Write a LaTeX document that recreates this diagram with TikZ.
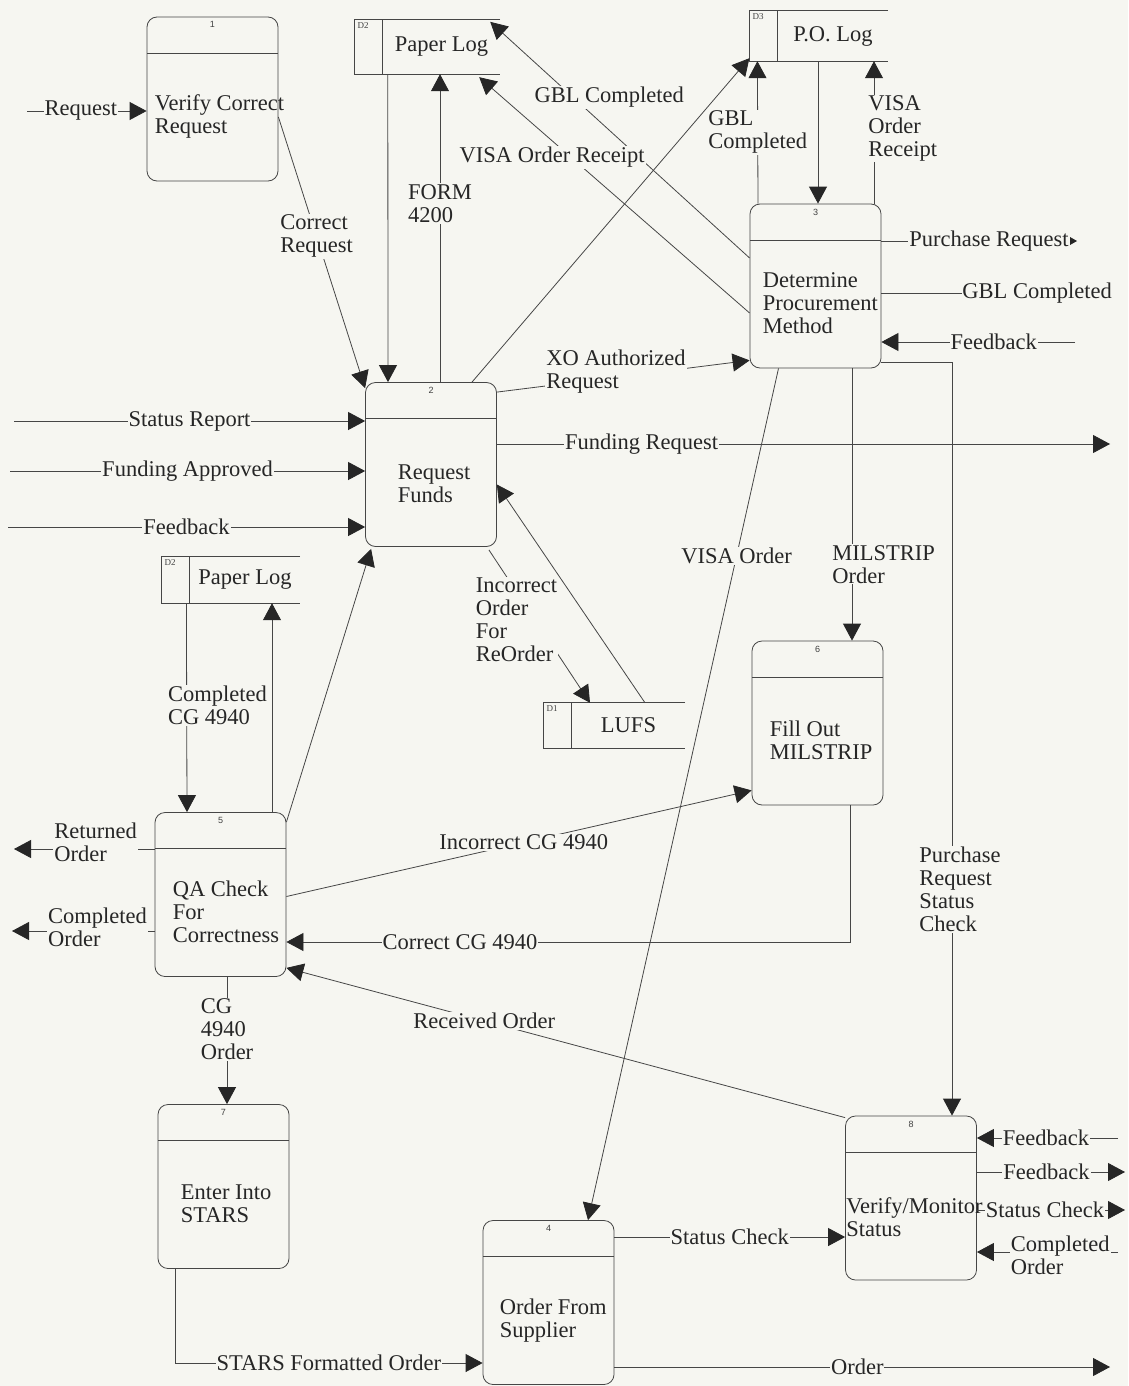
\documentclass[tikz,border=0pt]{standalone}
\usepackage{fontspec}
\setmainfont{Liberation Serif}
\newfontfamily\numfont{Liberation Sans}
\usepackage{tikz}
\usetikzlibrary{arrows.meta, positioning}
\definecolor{paper}{RGB}{246,246,241}
\definecolor{ink}{RGB}{70,70,70}

\begin{document}
\begin{tikzpicture}[
    x=1pt, y=-1pt,
    font=\fontsize{22.5}{23}\selectfont,
    flow/.style={draw=ink, line width=0.8pt},
    arrow/.style={flow, -{Triangle[length=17pt, width=18pt, color=black!85]}},
    smallarrow/.style={flow, -{Triangle[length=9pt, width=10pt, color=black!85]}},
    proc/.style={rectangle, rounded corners=10pt, draw=ink, line width=0.8pt, minimum width=131pt, minimum height=164pt, inner sep=0pt,
        path picture={\draw[ink, line width=0.8pt] ([yshift=-36pt]path picture bounding box.north west) -- ([yshift=-36pt]path picture bounding box.north east);}},
    num/.style={anchor=north, yshift=-4pt, inner sep=1pt, font=\numfont\fontsize{9}{9}\selectfont, text=black!75},
    ptext/.style={anchor=west, align=left, inner sep=0pt, text=black!85},
    store/.style={rectangle, inner sep=0pt, text=black!85},
    sid/.style={rectangle, inner sep=0pt, minimum width=28pt},
    sidtxt/.style={anchor=north west, inner sep=3pt, font=\fontsize{9}{9}\selectfont, text=black!75},
    edge/.style={draw=ink, line width=0.8pt},
    lbl/.style={fill=paper, inner sep=1pt, text=black!85}
]
    \useasboundingbox (0,0) rectangle (1128,1386);
    \fill[paper] (0,0) rectangle (1128,1386);

    % Processes
    \node[proc, label={[num]north:1}] (p1) at (212.5,99) {};
    \node[proc, label={[num]north:2}] (p2) at (431,464.5) {};
    \node[proc, label={[num]north:3}] (p3) at (815.5,286) {};
    \node[proc, label={[num]north:4}] (p4) at (548.5,1302.5) {};
    \node[proc, label={[num]north:5}] (p5) at (220.5,894.5) {};
    \node[proc, label={[num]north:6}] (p6) at (817.5,723) {};
    \node[proc, label={[num]north:7}] (p7) at (223.5,1186.5) {};
    \node[proc, label={[num]north:8}] (p8) at (911,1198) {};

    \node[ptext] (p1t) at ([shift={(8pt,-17pt)}]p1.west) {Verify Correct\\Request};
    \node[ptext] (p2t) at ([shift={(32.5pt,-19pt)}]p2.west) {Request\\Funds};
    \node[ptext] (p3t) at ([shift={(13pt,-17pt)}]p3.west) {Determine\\Procurement\\Method};
    \node[ptext] (p4t) at ([shift={(17pt,-18.5pt)}]p4.west) {Order From\\Supplier};
    \node[ptext] (p5t) at ([shift={(18pt,-17.5pt)}]p5.west) {QA Check\\For\\Correctness};
    \node[ptext] (p6t) at ([shift={(18pt,-17pt)}]p6.west) {Fill Out\\MILSTRIP};
    \node[ptext] (p7t) at ([shift={(23pt,-17pt)}]p7.west) {Enter Into\\STARS};
    \node[ptext] (p8t) at ([shift={(1pt,-19pt)}]p8.west) {Verify/Monitor\\Status};

    % Data stores
    \node[store, minimum width=117pt, minimum height=54pt] (d2a) at (441.5,47) {Paper Log};
    \node[sid, minimum height=54pt, left=0pt of d2a, label={[sidtxt]north west:D2}] (d2aid) {};
    \node[store, minimum width=110pt, minimum height=50pt] (d3) at (833,36) {P.O. Log};
    \node[sid, minimum height=50pt, left=0pt of d3, label={[sidtxt]north west:D3}] (d3id) {};
    \node[store, minimum width=110pt, minimum height=46pt] (d2b) at (245,580) {Paper Log};
    \node[sid, minimum height=46pt, left=0pt of d2b, label={[sidtxt]north west:D2}] (d2bid) {};
    \node[store, minimum width=113pt, minimum height=45pt] (d1) at (628.5,725.5) {LUFS};
    \node[sid, minimum height=45pt, left=0pt of d1, label={[sidtxt]north west:D1}] (d1id) {};

    \draw[edge] (d2a.north east) -- (d2aid.north west) -- (d2aid.south west) -- (d2a.south east);
    \draw[edge] (d2aid.north east) -- (d2aid.south east);
    \draw[edge] (d3.north east) -- (d3id.north west) -- (d3id.south west) -- (d3.south east);
    \draw[edge] (d3id.north east) -- (d3id.south east);
    \draw[edge] (d2b.north east) -- (d2bid.north west) -- (d2bid.south west) -- (d2b.south east);
    \draw[edge] (d2bid.north east) -- (d2bid.south east);
    \draw[edge] (d1.north east) -- (d1id.north west) -- (d1id.south west) -- (d1.south east);
    \draw[edge] (d1id.north east) -- (d1id.south east);

    % Free ends
    \coordinate (rqin) at (27,111);
    \coordinate (srin) at (14,421);
    \coordinate (fain) at (10,471);
    \coordinate (fbin) at (8,527);
    \coordinate (frout) at (1110,444);
    \coordinate (prout) at (1077,241);
    \coordinate (gblout) at (962,293);
    \coordinate (fb3in) at (1075,342);
    \coordinate (roout) at (14,849);
    \coordinate (coout) at (12,931);
    \coordinate (ordout) at (1110,1367);
    \coordinate (fb8in) at (1118,1138);
    \coordinate (fb8out) at (1125,1172);
    \coordinate (scout) at (1125,1210);
    \coordinate (co8in) at (1118,1252);

    % Verify and request funds
    \draw[arrow] (rqin) -- node[lbl, pos=0.45] {Request} (p1.west |- rqin);
    \draw[arrow] ([yshift=-18pt]p1.east) -- node[lbl, align=left, pos=0.44] {Correct\\Request} ([yshift=-6pt]p2.north west);
    \draw[arrow] (srin) -- node[lbl] {Status Report} (p2.west |- srin);
    \draw[arrow] (fain) -- node[lbl] {Funding Approved} (p2.west |- fain);
    \draw[arrow] (fbin) -- node[lbl] {Feedback} (p2.west |- fbin);
    \draw[arrow] (p2.east |- frout) -- node[lbl, pos=0.236] {Funding Request} (frout);
    \draw[arrow] ([xshift=5pt]d2a.south west) -- ([xshift=-43pt]p2.north);
    \draw[arrow] ([xshift=9pt]p2.north) -- node[lbl, align=left, pos=0.58] {FORM\\4200} ([xshift=-1.5pt]d2a.south);
    \draw[arrow] ([xshift=41pt]p2.north) -- ([yshift=3pt]d3id.south west);
    \draw[arrow] ([yshift=-10pt]p2.north east) -- node[lbl, align=left, anchor=west, pos=0.19, yshift=14pt] {XO Authorized\\Request} ([yshift=8pt]p3.south west);
    \draw[arrow] ([shift={(-8pt,-3pt)}]p2.south east) -- node[lbl, align=left, anchor=west, pos=0.46, xshift=-61pt] {Incorrect\\Order\\For\\ReOrder} ([xshift=-38.5pt]d1.north);
    \draw[arrow] ([xshift=16.5pt]d1.north) -- ([yshift=-20pt]p2.east);

    % Determine procurement method
    \draw[arrow] ([yshift=28pt]p3.west) -- node[lbl, pos=0.68, xshift=36pt] {GBL Completed} ([shift={(-10pt,-2pt)}]d2a.north east);
    \draw[arrow] ([yshift=-27pt]p3.west) -- node[lbl, pos=0.66, xshift=-19pt] {VISA Order Receipt} ([shift={(-21pt,-3pt)}]d2a.south east);
    \draw[arrow] ([xshift=-57.5pt]p3.north) -- node[lbl, align=left] {GBL\\Completed} ([xshift=8pt]d3id.south west);
    \draw[arrow] ([xshift=-15pt]d3.south) -- ([xshift=2.5pt]p3.north);
    \draw[arrow] ([xshift=58.5pt]p3.north) -- node[lbl, align=left, anchor=west, xshift=-7pt, yshift=4pt] {VISA\\Order\\Receipt} ([xshift=41pt]d3.south);
    \draw[smallarrow] ([yshift=45pt]p3.east) -- node[lbl, pos=0.55] {Purchase Request} (prout);
    \draw[flow] ([yshift=-7pt]p3.east) -- (gblout) node[lbl, anchor=west, inner xsep=0pt] {GBL Completed};
    \draw[arrow] (fb3in) -- node[lbl, pos=0.42] {Feedback} ([yshift=-56pt]p3.east);
    \draw[arrow] ([xshift=-37pt]p3.south) -- node[lbl, pos=0.22] {VISA Order} ([xshift=39.5pt]p4.north);
    \draw[arrow] ([xshift=36.5pt]p3.south) -- node[lbl, align=left, anchor=west, pos=0.72, xshift=-21pt] {MILSTRIP\\Order} ([xshift=34.5pt]p6.north);
    \draw[arrow] ([yshift=6pt]p3.south east) -| node[lbl, align=left, anchor=west, pos=0.85, xshift=-34pt] {Purchase\\Request\\Status\\Check} ([xshift=41pt]p8.north);

    % QA check
    \draw[arrow] ([xshift=25pt]d2bid.south west) -- node[lbl, align=left, anchor=west, pos=0.49, xshift=-20pt] {Completed\\CG 4940} ([xshift=-33.5pt]p5.north);
    \draw[arrow] ([xshift=51.5pt]p5.north) -- ([xshift=27pt]d2b.south);
    \draw[arrow] ([yshift=-10pt]p5.north east) -- ([shift={(6pt,-2pt)}]p2.south west);
    \draw[arrow] ([yshift=45.5pt]p5.west) -- node[lbl, align=left, pos=0.42, yshift=7pt] {Returned\\Order} (roout);
    \draw[arrow] ([yshift=-36.5pt]p5.west) -- node[lbl, align=left, pos=0.40, yshift=4pt] {Completed\\Order} (coout);
    \draw[arrow] ([yshift=-2pt]p5.east) -- node[lbl, pos=0.51] {Incorrect CG 4940} ([yshift=15pt]p6.south west);
    \draw[arrow] ([xshift=32.5pt]p6.south) |- node[lbl, pos=0.846] {Correct CG 4940} ([yshift=-47.5pt]p5.east);
    \draw[arrow] ([yshift=-2pt]p8.north west) -- node[lbl, pos=0.646] {Received Order} ([yshift=9pt]p5.south east);
    \draw[arrow] ([xshift=6.5pt]p5.south) -- node[lbl, align=left, pos=0.41] {CG\\4940\\Order} ([xshift=3.5pt]p7.north);

    % Ordering and status
    \draw[arrow] ([xshift=17.5pt]p7.south west) |- node[lbl, pos=0.75] {STARS Formatted Order} ([yshift=-60.5pt]p4.west);
    \draw[arrow] ([yshift=65.5pt]p4.east) -- node[lbl] {Status Check} ([yshift=-39pt]p8.west);
    \draw[arrow] ([yshift=-64.5pt]p4.east) -- node[lbl, pos=0.49] {Order} (ordout);
    \draw[arrow] (fb8in) -- node[lbl, pos=0.51] {Feedback} (p8.east |- fb8in);
    \draw[arrow] (p8.east |- fb8out) -- node[lbl, pos=0.47] {Feedback} (fb8out);
    \draw[arrow] (p8.east |- scout) -- node[lbl, pos=0.46] {Status Check} (scout);
    \draw[arrow] (co8in) -- node[lbl, align=left, pos=0.41, yshift=-3pt] {Completed\\Order} (p8.east |- co8in);
\end{tikzpicture}
\end{document}
